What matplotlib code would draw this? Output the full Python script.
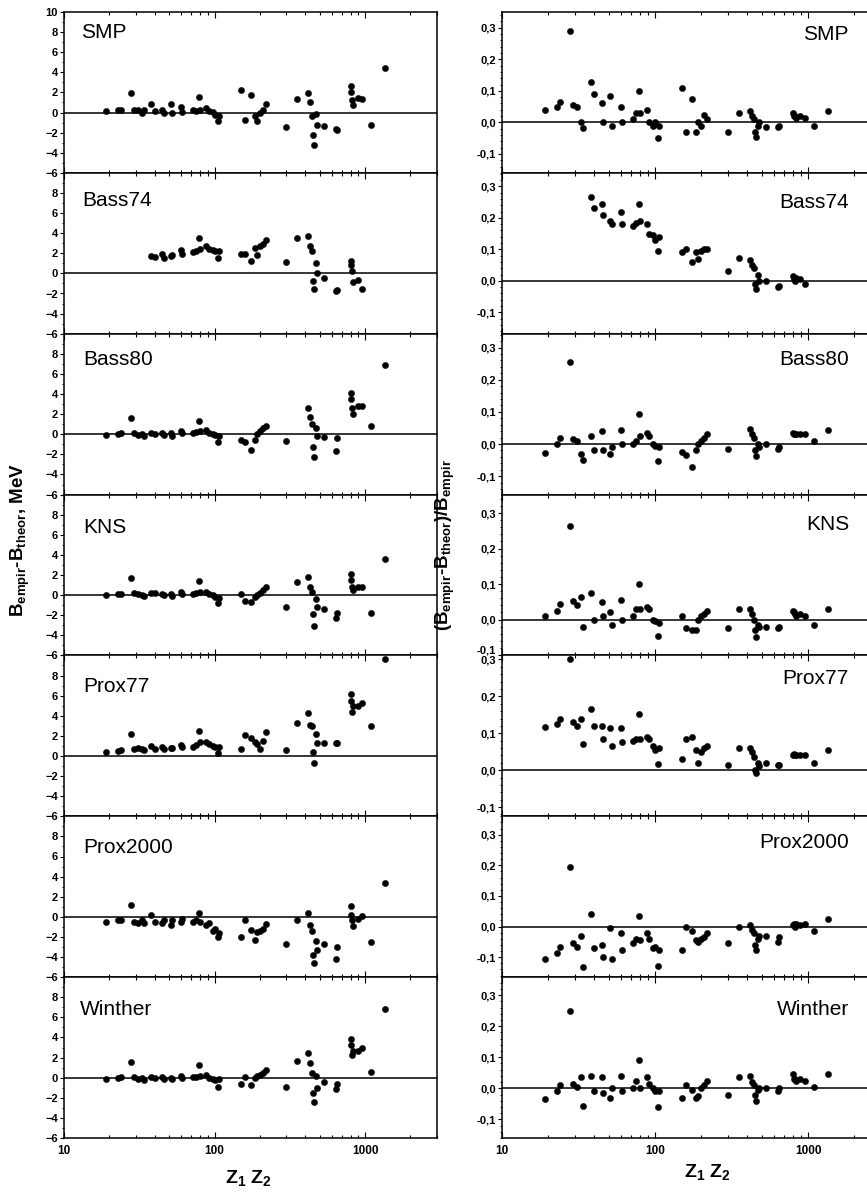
import numpy as np
import matplotlib
matplotlib.use("Agg")
import matplotlib.pyplot as plt
from matplotlib.ticker import FixedLocator, MultipleLocator, FuncFormatter, NullFormatter, LogLocator

plt.rcParams['font.family'] = ['Liberation Sans', 'DejaVu Sans']
plt.rcParams['mathtext.fontset'] = 'custom'
plt.rcParams['mathtext.rm'] = 'Liberation Sans:bold'
plt.rcParams['mathtext.bf'] = 'Liberation Sans:bold'
plt.rcParams['mathtext.it'] = 'Liberation Sans:bold'

nan = np.nan
# Z1*Z2 of the reactions (shared by all panels)
z1z2 = [19, 23, 24, 28, 29, 31, 33, 34, 38, 40, 45, 46, 51, 52, 60, 61, 72, 75, 79, 80,
        88, 92, 97, 100, 105, 107, 150, 160, 175, 185, 190, 200, 210, 220, 300, 355, 420, 430,
        445, 450, 455, 470, 480, 530, 640, 650, 800, 810, 820, 830, 890, 950, 1100, 1350]

panel_names = ["SMP", "Bass74", "Bass80", "KNS", "Prox77", "Prox2000", "Winther"]

# B_empir - B_theor, MeV
dB_smp = [0.2, 0.3, 0.3, 1.9, 0.3, 0.3, 0.0, 0.3, 0.8, 0.2, 0.3, 0.0, 0.8, 0.0, 0.6, 0.1, 0.3, 0.2, 1.5, 0.3,
          0.5, 0.2, 0.1, -0.2, -0.8, -0.3, 2.2, -0.7, 1.7, -0.3, -0.8, 0.0, 0.3, 0.8, -1.4, 1.3, 1.9, 1.0,
          -0.3, -2.2, -3.2, -0.1, -1.2, -1.3, -1.6, -1.7, 2.6, 2.0, 1.2, 0.7, 1.4, 1.3, -1.2, 4.4]
dB_bass74 = [nan, nan, nan, nan, nan, nan, nan, nan, 1.7, 1.6, 1.9, 1.5, 1.7, 1.8, 2.3, 1.9, 2.1, 2.2, 3.5, 2.4,
             2.7, 2.4, 2.3, 2.2, 1.5, 2.2, 1.9, 1.9, 1.2, 2.5, 1.8, 2.7, 2.9, 3.3, 1.1, 3.5, 3.7, 2.7,
             2.2, -0.8, -1.6, 1.0, 0.0, -0.5, -1.8, -1.7, 1.2, 0.8, 0.2, -0.9, -0.7, -1.6, nan, nan]
dB_bass80 = [-0.1, 0.0, 0.1, 1.6, 0.1, -0.1, 0.0, -0.2, 0.1, 0.0, 0.1, -0.1, 0.1, -0.2, 0.3, 0.1, 0.1, 0.2, 1.3, 0.3,
             0.4, 0.1, 0.0, -0.1, -0.8, -0.2, -0.6, -0.8, -1.6, -0.6, 0.0, 0.3, 0.6, 0.8, -0.7, nan, 2.6, 1.7,
             1.0, -1.3, -2.3, 0.6, -0.2, -0.3, -1.7, -0.4, 4.1, 3.5, 2.6, 2.0, 2.8, 2.8, 0.8, 6.9]
dB_kns = [0.0, 0.1, 0.1, 1.7, 0.2, 0.1, 0.0, -0.1, 0.2, 0.2, 0.1, 0.0, 0.1, -0.1, 0.3, 0.1, 0.1, 0.2, 1.4, 0.3,
          0.3, 0.1, 0.0, -0.2, -0.8, -0.3, 0.1, -0.6, -0.7, -0.2, 0.0, 0.2, 0.5, 0.8, -1.2, 1.3, 1.8, 0.8,
          0.3, -1.9, -3.1, -0.4, -1.2, -1.4, -2.3, -1.8, 2.1, 1.5, 0.8, 0.5, 0.8, 0.8, -1.8, 3.6]
dB_prox77 = [0.4, 0.5, 0.6, 2.2, 0.7, 0.8, 0.7, 0.6, 1.0, 0.7, 0.9, 0.7, 0.8, 0.8, 1.1, 0.9, 0.9, 1.1, 2.5, 1.4,
             1.4, 1.2, 1.0, 0.9, 0.3, 0.9, 0.7, 2.1, 1.8, 1.4, 1.2, 0.7, 1.5, 2.4, 0.6, 3.3, 4.3, 3.1,
             3.0, 0.4, -0.7, 2.2, 1.3, 1.3, 1.3, 1.3, 6.2, 5.5, 4.4, 5.0, 5.0, 5.3, 3.0, 9.6]
dB_prox2000 = [-0.5, -0.3, -0.3, 1.2, -0.5, -0.6, -0.3, -0.6, 0.2, -0.5, -0.6, -0.3, -0.8, -0.3, -0.5, -0.2, -0.5, -0.3, 0.4, -0.5,
               -0.8, -0.6, -1.4, -1.2, -2.0, -1.6, -2.0, -0.3, -1.3, -2.3, -1.5, -1.4, -1.2, -0.7, -2.7, -0.3, 0.4, -0.8,
               -1.4, -3.8, -4.6, -2.4, -3.3, -2.7, -4.2, -3.0, 1.1, 0.2, -0.3, -0.9, -0.2, 0.1, -2.5, 3.4]
dB_winther = [-0.1, 0.0, 0.1, 1.6, 0.1, -0.1, 0.0, -0.2, 0.1, 0.0, 0.1, -0.1, 0.0, -0.1, 0.2, 0.0, 0.1, 0.1, 1.3, 0.2,
              0.3, 0.0, -0.1, -0.2, -0.9, -0.1, -0.6, 0.1, -0.7, 0.0, 0.2, 0.3, 0.5, 0.8, -0.9, 1.7, 2.5, 1.5,
              0.5, -1.5, -2.4, 0.2, -1.0, -0.4, -1.1, -0.6, 3.8, 3.3, 2.3, 2.7, 2.7, 3.0, 0.6, 6.8]

# (B_empir - B_theor)/B_empir
rel_smp = [0.040, 0.05, 0.065, 0.29, 0.055, 0.05, 0.0, -0.018, 0.127, 0.09, 0.06, 0.0, 0.085, -0.01, 0.05, 0.0, 0.01, 0.03, 0.10, 0.03,
           0.04, 0.0, -0.01, 0.0, -0.05, -0.01, 0.11, -0.03, 0.075, -0.03, 0.0, -0.01, 0.025, 0.01, -0.03, 0.03, 0.035, 0.02,
           0.01, -0.03, -0.045, -0.01, 0.0, -0.015, -0.015, -0.012, 0.03, 0.02, 0.02, 0.015, 0.02, 0.015, -0.01, 0.035]
rel_bass74 = [nan, nan, nan, nan, nan, nan, nan, nan, 0.265, 0.23, 0.245, 0.21, 0.19, 0.18, 0.22, 0.18, 0.175, 0.185, 0.245, 0.19,
              0.18, 0.15, 0.145, 0.13, 0.095, 0.14, 0.09, 0.1, 0.06, 0.09, 0.07, 0.095, 0.1, 0.1, 0.03, 0.072, 0.065, 0.05,
              0.04, -0.01, -0.025, 0.02, 0.0, 0.0, -0.02, -0.018, 0.015, 0.005, 0.0, 0.01, 0.005, -0.01, nan, nan]
rel_bass80 = [-0.028, 0.0, 0.02, 0.255, 0.015, 0.01, -0.03, -0.049, 0.025, -0.02, 0.04, -0.02, -0.03, -0.01, 0.045, 0.0, 0.0, 0.01, 0.092, 0.025,
              0.035, 0.025, 0.0, -0.005, -0.054, -0.01, -0.025, -0.035, -0.072, -0.02, 0.0, 0.01, 0.02, 0.03, -0.015, nan, 0.046, 0.03,
              0.02, -0.02, -0.038, 0.0, -0.01, 0.0, -0.015, -0.01, 0.035, 0.03, 0.03, 0.03, 0.03, 0.03, 0.01, 0.045]
rel_kns = [0.011, 0.025, 0.044, 0.263, 0.051, 0.04, 0.063, -0.02, 0.075, 0.0, 0.05, 0.01, 0.02, -0.015, 0.055, 0.0, 0.01, 0.03, 0.099, 0.03,
           0.035, 0.03, 0.0, -0.005, -0.045, -0.01, 0.01, -0.025, -0.03, -0.03, 0.0, 0.01, 0.015, 0.025, -0.025, 0.03, 0.03, 0.015,
           0.0, -0.03, -0.05, -0.015, -0.02, -0.02, -0.025, -0.02, 0.025, 0.02, 0.015, 0.01, 0.015, 0.01, -0.015, 0.03]
rel_prox77 = [0.118, 0.125, 0.138, 0.30, 0.13, 0.12, 0.14, 0.072, 0.165, 0.12, 0.12, 0.085, 0.115, 0.065, 0.115, 0.075, 0.08, 0.085, 0.152, 0.085,
              0.09, 0.085, 0.065, 0.055, 0.016, 0.06, 0.03, 0.085, 0.09, 0.055, 0.02, 0.05, 0.06, 0.065, 0.015, 0.06, 0.06, 0.05,
              0.035, 0.0, -0.009, 0.02, 0.01, 0.02, 0.015, 0.015, 0.04, 0.045, 0.04, 0.04, 0.04, 0.04, 0.02, 0.055]
rel_prox2000 = [-0.107, -0.085, -0.065, 0.194, -0.054, -0.065, -0.03, -0.133, 0.04, -0.07, -0.06, -0.1, -0.005, -0.105, -0.02, -0.075, -0.055, -0.04, 0.035, -0.045,
                -0.02, -0.04, -0.07, -0.065, -0.129, -0.075, -0.075, 0.0, -0.015, -0.045, -0.05, -0.04, -0.035, -0.02, -0.055, 0.0, 0.005, -0.01,
                -0.02, -0.06, -0.075, -0.04, -0.03, -0.03, -0.05, -0.035, 0.005, 0.01, 0.0, 0.01, 0.005, 0.01, -0.015, 0.025]
rel_winther = [-0.033, -0.01, 0.01, 0.25, 0.015, 0.005, 0.035, -0.056, 0.04, -0.01, 0.035, -0.015, -0.03, 0.0, 0.04, -0.01, 0.0, 0.025, 0.092, 0.0,
               0.035, 0.015, 0.0, -0.01, -0.059, -0.01, -0.03, 0.01, -0.005, -0.03, -0.025, 0.0, 0.01, 0.025, -0.02, 0.035, 0.04, 0.02,
               0.01, -0.02, -0.04, -0.005, 0.0, 0.0, -0.01, 0.0, 0.045, 0.03, 0.03, 0.025, 0.03, 0.025, 0.005, 0.045]

left_data = [dB_smp, dB_bass74, dB_bass80, dB_kns, dB_prox77, dB_prox2000, dB_winther]
right_data = [rel_smp, rel_bass74, rel_bass80, rel_kns, rel_prox77, rel_prox2000, rel_winther]

# layout (pixels)
W, H = 867, 1198
fig = plt.figure(figsize=(W / 100, H / 100), dpi=100)
top0, bot_end = 12, 1138
ph = (bot_end - top0) / 7.0
LX0, LX1 = 64, 437
RX0 = 502
RX1 = RX0 + 153 * np.log10(3000 / 10)
right_ylims = [(-0.16, 0.35), (-0.168, 0.343), (-0.157, 0.343), (-0.101, 0.352),
               (-0.125, 0.311), (-0.165, 0.36), (-0.16, 0.358)]
left_label_dy = [21, 28, 26, 33, 31, 31, 32]
left_label_x = [81, 82, 83, 83, 83, 83, 80]
right_label_dy = [22, 30, 26, 30, 23, 26, 32]

def comma_fmt(v, pos):
    s = "%.1f" % v
    if s == "-0.0":
        s = "0.0"
    return s.replace('.', ',')

x = np.array(z1z2, dtype=float)
for i in range(7):
    t = top0 + i * ph
    b = t + ph
    for col in range(2):
        if col == 0:
            rect = [LX0 / W, 1 - b / H, (LX1 - LX0) / W, ph / H]
        else:
            rect = [RX0 / W, 1 - b / H, (RX1 - RX0) / W, ph / H]
        ax = fig.add_axes(rect)
        ax.set_xscale('log')
        ax.set_xlim(10, 3000)
        y = np.array(left_data[i] if col == 0 else right_data[i], dtype=float)
        ax.plot(x, y, 'o', color='black', ms=4.5, mec='black', mew=0.3, zorder=3)
        ax.axhline(0, color='black', lw=1.1, zorder=2)
        if col == 0:
            ax.set_ylim(-6, 10)
            ticks = list(range(-6, 11, 2)) if i == 0 else list(range(-6, 9, 2))
            ax.yaxis.set_major_locator(FixedLocator(ticks))
            ax.yaxis.set_minor_locator(MultipleLocator(1))
            ax.text((left_label_x[i] - LX0) / (LX1 - LX0), 1 - left_label_dy[i] / ph, panel_names[i],
                    transform=ax.transAxes, ha='left', va='center', fontsize=15)
        else:
            ax.set_ylim(*right_ylims[i])
            ax.yaxis.set_major_locator(FixedLocator([-0.1, 0.0, 0.1, 0.2, 0.3]))
            ax.yaxis.set_minor_locator(MultipleLocator(0.02))
            ax.yaxis.set_major_formatter(FuncFormatter(comma_fmt))
            ax.text((849 - RX0) / (RX1 - RX0), 1 - right_label_dy[i] / ph, panel_names[i],
                    transform=ax.transAxes, ha='right', va='center', fontsize=15)
        ax.tick_params(axis='y', which='major', direction='out', length=3, width=0.8, pad=1.5, labelsize=8)
        ax.tick_params(axis='y', which='minor', direction='out', length=1.5, width=0.6)
        ax.tick_params(axis='x', which='both', direction='in', top=True, bottom=True, width=0.8)
        ax.tick_params(axis='x', which='major', length=4)
        ax.tick_params(axis='x', which='minor', length=2)
        ax.xaxis.set_major_locator(LogLocator(base=10, numticks=10))
        ax.xaxis.set_minor_locator(LogLocator(base=10, subs=np.arange(2, 10), numticks=10))
        ax.xaxis.set_minor_formatter(NullFormatter())
        for lab in ax.get_yticklabels():
            lab.set_fontweight('bold')
        if col == 1 and right_ylims[i][0] > -0.105:
            # bottom "-0,1" label sits on the panel edge: keep it just above the edge
            ax.figure.canvas.draw()
            for lab in ax.get_yticklabels():
                if lab.get_text().startswith('-0,1'):
                    lab.set_verticalalignment('bottom')
        if i == 6:
            ax.xaxis.set_major_formatter(FuncFormatter(lambda v, p: "%d" % v))
            ax.tick_params(axis='x', which='major', labelsize=8.5, pad=5)
            for lab in ax.get_xticklabels():
                lab.set_fontweight('bold')
        else:
            ax.tick_params(axis='x', labelbottom=False)
        for sp in ax.spines.values():
            sp.set_linewidth(1.1)

fig.text(20 / W, 1 - 540 / H, r"B$_{\mathbf{empir}}$-B$_{\mathbf{theor}}$, MeV", rotation=90,
         ha='center', va='center', fontsize=13.5, fontweight='bold')
fig.text(445 / W, 1 - 545 / H, r"(B$_{\mathbf{empir}}$-B$_{\mathbf{theor}}$)/B$_{\mathbf{empir}}$", rotation=90,
         ha='center', va='center', fontsize=13.5, fontweight='bold')
fig.text(248 / W, 1 - 1178 / H, r"Z$_{\mathbf{1}}$ Z$_{\mathbf{2}}$", ha='center', va='center',
         fontsize=14, fontweight='bold')
fig.text(707 / W, 1 - 1172 / H, r"Z$_{\mathbf{1}}$ Z$_{\mathbf{2}}$", ha='center', va='center',
         fontsize=14, fontweight='bold')

fig.savefig("out.png", dpi=100)
